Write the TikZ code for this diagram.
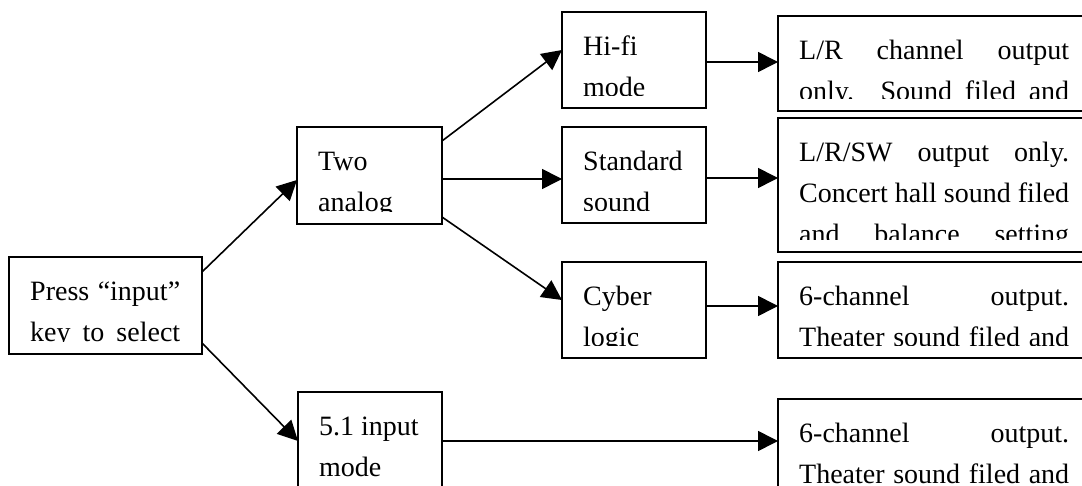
\documentclass[tikz,border=0pt]{standalone}
\usepackage{fontspec}
\setmainfont{Liberation Serif}
\usetikzlibrary{arrows.meta,calc}
\newcommand\jl[2]{\makebox[#1pt][s]{#2}}
\newcommand\textboxnode[6]{%
  \node[box, minimum width=#4pt, minimum height=#5pt, anchor=north west] (#1) at (#2,#3) {};
  \begin{scope}
    \clip (#1.north west) rectangle ($(#1.south east)+(0,-12)$);
    \node[txt] (#1t) at ($(#1.north west)+(21,14.3)$) {#6};
  \end{scope}}
\begin{document}
\begin{tikzpicture}[x=1pt,y=-1pt,
  box/.style={draw, line width=1.6pt, inner sep=0pt, outer sep=0pt},
  txt/.style={inner sep=0pt, anchor=north west, align=left, font=\fontsize{28pt}{41pt}\selectfont},
  arr/.style={line width=1.6pt, -{Triangle[length=20pt,width=20pt]}}]
\clip (0,0) rectangle (1082,486);
\fill[white] (0,0) rectangle (1082,486);

\textboxnode{press}{9}{257}{193}{97}{\strut\jl{150}{Press “input”}\\\strut\jl{150}{key to select}}
\textboxnode{two}{297}{127}{145}{97}{\strut Two\\\strut analog}
\textboxnode{five}{298}{392}{144}{130}{\strut 5.1 input\\\strut mode}
\textboxnode{hifi}{562}{12}{144}{96}{\strut Hi-fi\\\strut mode}
\textboxnode{std}{562}{127}{144}{96}{\strut Standard\\\strut sound}
\textboxnode{cyber}{562}{262}{144}{96}{\strut Cyber\\\strut logic}
\textboxnode{ra}{778}{16}{330}{95}{\strut\jl{270}{L/R channel output}\\\strut\jl{270}{only. Sound filed and}}
\textboxnode{rb}{778}{118}{330}{134}{\strut\jl{270}{L/R/SW output only.}\\\strut\jl{270}{Concert hall sound filed}\\\strut\jl{270}{and balance setting}}
\textboxnode{rc}{778}{262}{330}{96}{\strut\jl{270}{6-channel output.}\\\strut\jl{270}{Theater sound filed and}}
\textboxnode{rd}{778}{399}{330}{130}{\strut\jl{270}{6-channel output.}\\\strut\jl{270}{Theater sound filed and}}

\draw[arr] ($(press.north east)+(0,15)$) -- ($(two.north west)+(0,53)$);
\draw[arr] ($(press.south east)+(0,-11)$) -- ($(five.north west)+(0,49)$);
\draw[arr] ($(two.north east)+(0,14)$) -- ($(hifi.north west)+(0,38)$);
\draw[arr] ($(two.north east)+(0,52)$) -- ($(std.north west)+(0,52)$);
\draw[arr] ($(two.south east)+(0,-7)$) -- ($(cyber.north west)+(0,38)$);
\draw[arr] ($(hifi.north east)+(0,50)$) -- ($(ra.north west)+(0,46)$);
\draw[arr] ($(std.north east)+(0,51)$) -- ($(rb.north west)+(0,60)$);
\draw[arr] ($(cyber.north east)+(0,44)$) -- ($(rc.north west)+(0,44)$);
\draw[arr] ($(five.north east)+(0,49)$) -- ($(rd.north west)+(0,42)$);
\end{tikzpicture}
\end{document}
